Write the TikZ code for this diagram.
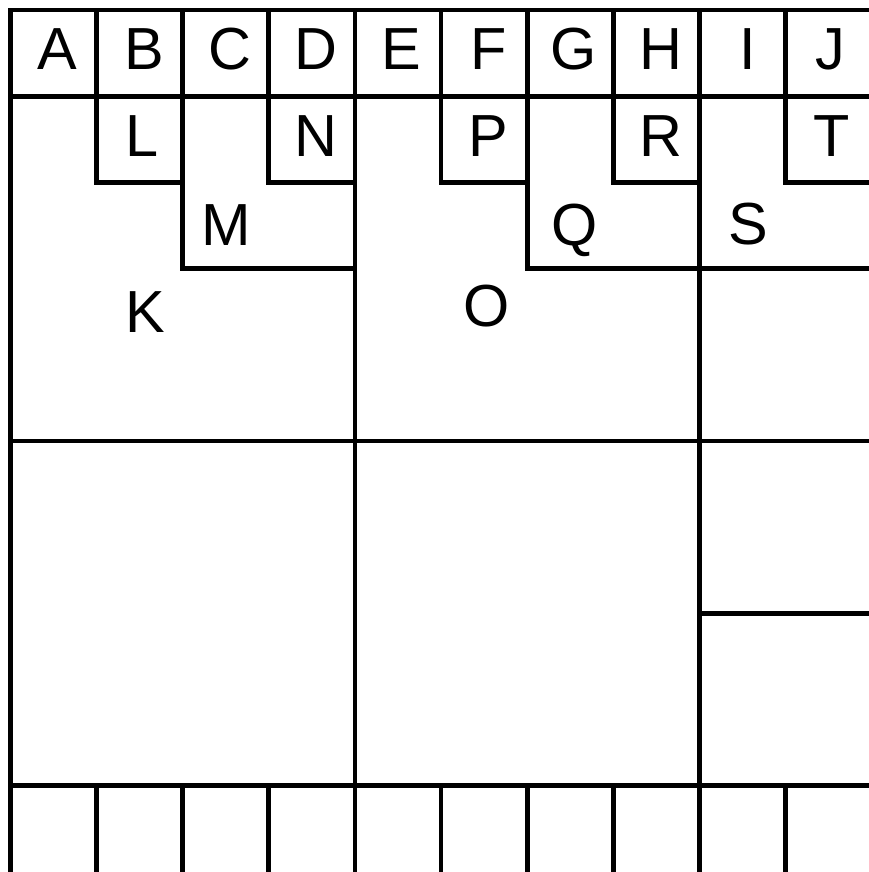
\documentclass[tikz,border=0pt]{standalone}
\usepackage{fontspec}
\setmainfont{Liberation Sans}
\begin{document}
\begin{tikzpicture}[x=1pt,y=-1pt,
  wall/.style={draw=black, line width=4.8pt, line join=miter},
  lab/.style={anchor=base, inner sep=0pt, font=\fontsize{59.4}{60}\selectfont}]
\useasboundingbox (0,0) rectangle (869,872);
\clip (0,0) rectangle (869,872);
\begin{scope}[shift={(10.5,10)}, x=86.1pt, y=-86.2pt]
  % top row of cells
  \foreach \i in {0,...,9} \draw[wall] (\i,0) rectangle (\i+1,1);
  % bottom row of cells (bottom edge falls outside the picture)
  \foreach \i in {0,...,9} \draw[wall] (\i,9) rectangle (\i+1,10.2);
  % small boxes L, N, P, R, T
  \foreach \i in {1,3,5,7,9} \draw[wall] (\i,1) rectangle (\i+1,2);
  % big regions
  \draw[wall] (0,1) rectangle (4,5);
  \draw[wall] (4,1) rectangle (8,5);
  \draw[wall] (8,1) rectangle (10,5);
  \draw[wall] (0,5) rectangle (4,9);
  \draw[wall] (4,5) rectangle (8,9);
  \draw[wall] (8,5) rectangle (10,7);
  \draw[wall] (8,7) rectangle (10,9);
  % M, Q, S regions
  \draw[wall] (2,1) -- (2,3) -- (4,3);
  \draw[wall] (6,1) -- (6,3) -- (10,3);
\end{scope}
% labels (text centre x, baseline y, in pixels)
\node[lab] (A) at (57.5,69.5) {A};
\node[lab] (B) at (144,69.5) {B};
\node[lab] (C) at (230,69.5) {C};
\node[lab] (D) at (316,69.5) {D};
\node[lab] (E) at (401.5,69.5) {E};
\node[lab] (F) at (488.5,69.5) {F};
\node[lab] (G) at (574,69.5) {G};
\node[lab] (H) at (661,69.5) {H};
\node[lab] (I) at (747.5,69.5) {I};
\node[lab] (J) at (830,69.5) {J};
\node[lab] (L) at (142.5,157) {L};
\node[lab] (N) at (316,157) {N};
\node[lab] (P) at (488.5,157) {P};
\node[lab] (R) at (661,157) {R};
\node[lab] (T) at (832,157) {T};
\node[lab] (M) at (226,245) {M};
\node[lab] (Q) at (574.5,245) {Q};
\node[lab] (S) at (748,244) {S};
\node[lab] (K) at (145,332.5) {K};
\node[lab] (O) at (487,326) {O};
\end{tikzpicture}
\end{document}
